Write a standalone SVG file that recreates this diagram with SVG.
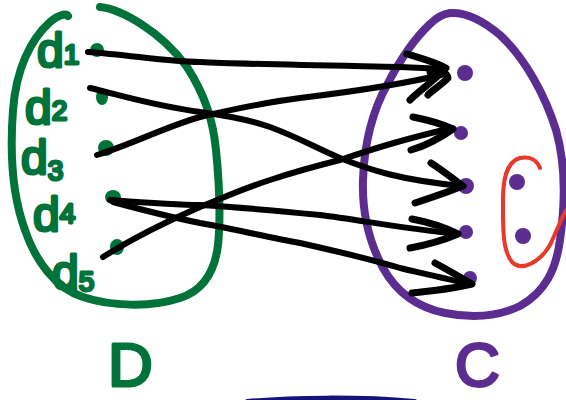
<svg xmlns="http://www.w3.org/2000/svg" width="566" height="400" viewBox="0 0 566 400">
<style>
.green{fill:none;stroke:#00733a;stroke-width:8;stroke-linecap:round;stroke-linejoin:round}
.purple{fill:none;stroke:#5c2d91;stroke-width:8;stroke-linecap:round;stroke-linejoin:round}
.gdot{fill:#00733a}
.pdot{fill:#5c2d91}
.wire{fill:none;stroke:#000;stroke-width:6;stroke-linecap:round;stroke-linejoin:round}
.head{fill:none;stroke:#000;stroke-width:7;stroke-linecap:round;stroke-linejoin:round}
.lbl{font-family:"Liberation Sans",Arial,sans-serif;fill:#00733a;stroke:#00733a;stroke-width:3;stroke-linejoin:round;font-size:48px}
.sub{font-size:28px}
.big{font-family:"Liberation Sans",Arial,sans-serif;font-size:62px;stroke-width:3;stroke-linejoin:round}
</style>
<rect width="566" height="400" fill="#fff"/>
<g id="set-D">
<path class="green" d="M100,7 C120,9 160,30 187,67 C205,95 213,120 216,150 C219,180 221,215 218,245 C215,270 205,290 180,298 C150,308 110,306 83,297 C55,288 35,260 25,230 C12,195 10,150 13,110 C16,70 30,40 50,22 C58,15 66,13 68,16"/>
<text class="big" x="108" y="386" fill="#00733a" stroke="#00733a">D</text>
</g>
<g id="d1"><ellipse class="gdot" cx="97" cy="50" rx="7" ry="7"/><text class="lbl" x="37" y="67">d<tspan class="sub" dy="-3">1</tspan></text></g>
<g id="d2"><ellipse class="gdot" cx="102" cy="97" rx="6" ry="8"/><text class="lbl" x="25" y="124">d<tspan class="sub" dy="-4">2</tspan></text></g>
<g id="d3"><ellipse class="gdot" cx="106" cy="148" rx="8" ry="8"/><text class="lbl" x="21" y="174">d<tspan class="sub" dy="6">3</tspan></text></g>
<g id="d4"><ellipse class="gdot" cx="113" cy="197" rx="8" ry="7"/><text class="lbl" x="33" y="231">d<tspan class="sub" dy="-8">4</tspan></text></g>
<g id="d5"><ellipse class="gdot" cx="117" cy="247" rx="7" ry="8"/><text class="lbl" x="52" y="289">d<tspan class="sub" dy="2">5</tspan></text></g>
<g id="set-C">
<path class="purple" d="M450,13 C465,12 480,18 500,35 C525,58 545,95 556,130 C566,165 565,205 560,240 C556,270 545,292 520,306 C495,318 470,318 445,313 C420,308 398,295 383,268 C368,240 362,210 363,180 C364,150 370,115 388,83 C400,60 415,38 430,24 C437,17 443,14 450,13 Z"/>
<text class="big" x="455" y="386" fill="#5c2d91" stroke="#5c2d91">C</text>
</g>
<g id="c1"><circle class="pdot" cx="465" cy="73" r="8"/></g>
<g id="c2"><circle class="pdot" cx="461" cy="133" r="7"/></g>
<g id="c3"><circle class="pdot" cx="466" cy="186" r="8"/></g>
<g id="c4"><circle class="pdot" cx="466" cy="232" r="7"/></g>
<g id="c5"><circle class="pdot" cx="470" cy="278" r="7"/></g>
<g id="c6"><circle class="pdot" cx="517" cy="182" r="8"/></g>
<g id="c7"><circle class="pdot" cx="523" cy="236" r="8"/></g>
<g id="subset">
<path d="M540,168 C537,160 530,156 520,158 C506,162 503,180 503,200 C503,225 502,250 512,262 C522,272 540,262 550,245 C556,232 562,218 566,210" fill="none" stroke="#e8392b" stroke-width="4" stroke-linecap="round"/>
</g>
<g id="connectors">
<path class="wire" d="M88,52 C130,55 170,62 200,62 C240,64 300,65 400,67 L445,69"/>
<path class="wire" d="M97,155 C130,145 170,125 200,117 C230,110 260,103 300,98 C350,92 400,85 445,74"/>
<path class="wire" d="M90,88 C120,95 150,105 200,112 C230,116 250,120 270,127 C300,138 320,150 340,158 C370,170 400,180 462,186"/>
<path class="wire" d="M103,257 C130,240 170,220 200,207 C225,197 245,188 270,180 C300,170 320,165 340,160 C370,150 400,140 452,128"/>
<path class="wire" d="M110,200 C150,203 180,205 200,205 C250,208 290,212 320,215 C360,220 400,228 458,234"/>
<path class="wire" d="M113,202 C150,212 175,218 200,223 C240,230 270,238 300,243 C340,252 380,262 400,268 C430,275 450,280 472,284"/>
<path class="head" d="M407,54 C420,58 435,62 446,68 C440,76 420,90 410,100"/>
<path class="head" d="M430,72 C440,70 447,72 448,78 C440,86 430,92 428,95"/>
<path class="head" d="M413,117 C428,120 442,124 453,129 C440,138 425,146 411,150"/>
<path class="head" d="M431,163 C442,170 452,178 463,186 C448,192 430,198 415,203"/>
<path class="head" d="M412,219 C428,222 444,227 458,234 C444,240 426,245 410,248"/>
<path class="head" d="M435,263 C448,270 460,277 472,284 C455,288 432,291 412,293"/>
</g>
<path id="edge-stroke" d="M248,403 C290,399 360,398 414,403" fill="none" stroke="#15127a" stroke-width="8" stroke-linecap="round"/>
</svg>
